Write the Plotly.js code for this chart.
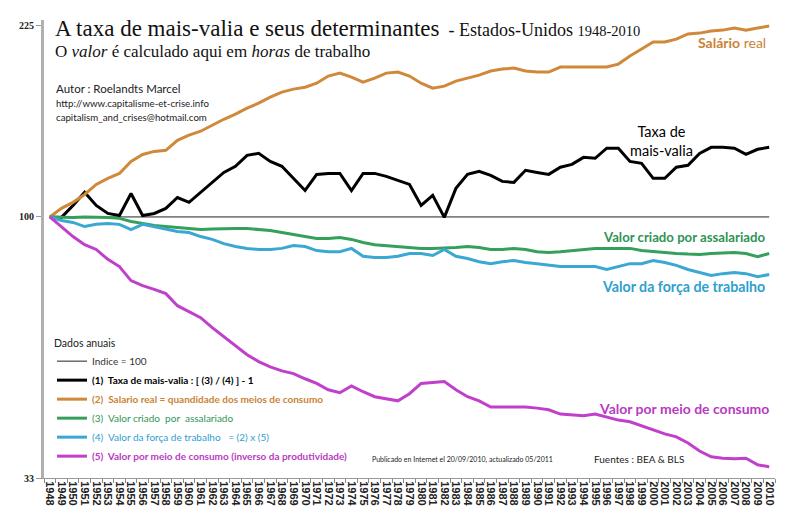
<!DOCTYPE html>
<html>
<head>
<meta charset="utf-8">
<script src="https://cdn.plot.ly/plotly-3.0.1.min.js"></script>
<style>
  html, body { margin: 0; padding: 0; background: #fff; }
  #chart { width: 787px; height: 526px; }
</style>
</head>
<body>
<div id="chart"></div>
<script>
// Annual series, United States 1948-2010, index 1948 = 100
const years = [];
for (let y = 1948; y <= 2010; y++) years.push(y);

const indexLine = years.map(() => 100);

// (1) Taxa de mais-valia
const taxaMaisValia = [
  100.0, 99.8, 105.0, 111.0, 105.0, 101.5, 100.6, 110.5, 100.6, 101.5,
  103.7, 108.6, 106.4, 111.0, 115.8, 120.8, 124.0, 129.9, 131.0, 126.6,
  124.0, 117.8, 111.9, 119.8, 120.3, 120.3, 111.9, 120.3, 120.3, 118.8,
  116.8, 114.8, 105.0, 109.6, 99.8, 112.9, 119.8, 121.4, 119.3, 116.3,
  115.8, 121.9, 120.8, 119.8, 123.5, 125.0, 128.8, 128.3, 133.9, 133.9,
  126.6, 125.6, 117.8, 117.8, 123.5, 124.5, 131.0, 134.4, 134.4, 133.9,
  130.4, 133.3, 134.4
];

// (2) Salário real
const salarioReal = [
  100.0, 103.7, 106.4, 110.0, 114.8, 117.8, 120.3, 126.6, 130.4, 132.1,
  132.7, 138.5, 141.5, 143.9, 147.6, 151.4, 154.7, 158.7, 162.1, 166.3,
  169.9, 172.1, 173.5, 176.5, 181.9, 184.2, 181.1, 177.3, 180.3, 184.2,
  185.0, 181.9, 176.5, 172.8, 174.3, 178.0, 180.3, 182.6, 185.8, 187.4,
  188.2, 185.8, 185.0, 185.0, 189.0, 189.0, 189.0, 189.0, 189.0, 191.4,
  198.0, 204.0, 210.2, 210.2, 212.8, 217.5, 218.3, 220.2, 221.1, 223.0,
  221.1, 223.0, 225.0
];

// (3) Valor criado por assalariado
const valorCriado = [
  100.0, 99.8, 99.8, 100.0, 100.0, 99.8, 99.4, 98.1, 97.3, 96.4,
  96.0, 95.6, 95.2, 94.8, 95.0, 95.2, 95.2, 95.2, 94.8, 94.4,
  93.6, 92.8, 92.0, 91.3, 91.3, 91.6, 90.9, 89.7, 88.9, 88.6,
  88.2, 87.8, 87.5, 87.5, 87.6, 87.8, 88.2, 87.8, 87.1, 87.1,
  87.5, 87.1, 86.3, 86.0, 86.3, 86.7, 87.1, 87.5, 87.5, 87.5,
  87.5, 86.7, 86.3, 86.0, 85.6, 85.4, 85.3, 85.6, 85.8, 86.0,
  85.6, 84.5, 85.6
];

// (4) Valor da força de trabalho = (2) x (5)
const valorForca = [
  100.0, 98.5, 97.7, 96.0, 96.9, 97.3, 96.9, 94.8, 96.9, 96.0,
  94.8, 94.0, 93.6, 92.0, 90.9, 89.3, 88.2, 87.5, 87.1, 87.1,
  87.5, 88.6, 88.2, 86.7, 86.3, 86.3, 87.5, 84.6, 84.2, 84.2,
  84.6, 85.6, 85.6, 84.9, 87.1, 84.6, 83.8, 82.7, 82.0, 82.7,
  83.1, 82.4, 82.0, 81.4, 81.0, 81.0, 81.0, 81.0, 80.0, 81.0,
  82.0, 82.0, 83.1, 82.4, 81.4, 80.0, 79.0, 78.0, 78.6, 79.0,
  78.6, 77.6, 78.3
];

// (5) Valor por meio de consumo (inverso da produtividade)
const valorMeio = [
  100.0, 96.0, 92.0, 88.9, 87.1, 83.5, 81.0, 76.3, 74.7, 73.5,
  72.2, 68.6, 66.9, 65.2, 62.5, 60.1, 57.9, 55.7, 54.1, 52.9,
  52.0, 51.4, 50.3, 49.3, 48.0, 47.4, 48.8, 47.6, 46.6, 46.2,
  45.8, 47.2, 49.3, 49.5, 49.7, 48.0, 46.6, 45.8, 44.6, 44.6,
  44.6, 44.6, 44.4, 44.1, 43.3, 43.2, 43.0, 43.3, 42.8, 42.2,
  41.9, 41.2, 40.5, 39.8, 39.3, 38.3, 37.0, 36.1, 35.9, 35.8,
  35.9, 34.9, 34.6
];

const yTickVals = [33, 100, 225];
const yTickText = ['33', '100', '225'];

const COLORS = {
  index: '#222222',
  taxa: '#000000',
  salario: '#d0893a',
  criado: '#34a05c',
  forca: '#3aa8d2',
  meio: '#c03fcb'
};

// page geometry (px)
const W = 787, H = 526, L = 44, R = 12, T = 20, B = 48;
const PW = W - L - R, PH = H - T - B;
const px = v => (v - L) / PW;
const py = v => (H - B - v) / PH;

const tinted = (c, s) => '<span style="color:' + c + '">' + s + '</span>';

function line(y, name, color, width) {
  return {
    type: 'scatter', mode: 'lines', x: years, y: y, name: name,
    line: { color: color, width: width, shape: 'linear' },
    hoverinfo: 'skip', cliponaxis: false
  };
}

const traces = [
  line(indexLine, tinted('#333', 'Indice = 100'), COLORS.index, 1),
  line(taxaMaisValia, '<b>' + tinted('#000', '(1)  Taxa de mais-valia : [ (3) / (4) ] - 1') + '</b>', COLORS.taxa, 3),
  line(salarioReal, '<b>' + tinted('#c98336', '(2)  Salario real = quandidade dos meios de consumo') + '</b>', COLORS.salario, 3),
  line(valorCriado, tinted('#2f9456', '(3)  Valor criado  por  assalariado'), COLORS.criado, 3),
  line(valorForca, tinted('#2fa0cf', '(4)  Valor da força de trabalho   = (2) x (5)'), COLORS.forca, 3),
  line(valorMeio, '<b>' + tinted('#b83ac4', '(5)  Valor por meio de consumo (inverso da produtividade)') + '</b>', COLORS.meio, 3)
];

const halfYears = [];
for (let y = 1947.5; y <= 2010.5; y += 1) halfYears.push(y);

const SANS = 'Lato, "Open Sans", sans-serif';
const SERIF = '"Liberation Serif", "DejaVu Serif", serif';

function note(x, y, text, size, color, anchor, extra) {
  return Object.assign({
    xref: 'paper', yref: 'paper', x: px(x), y: py(y),
    xanchor: anchor || 'left', yanchor: 'middle',
    text: text, showarrow: false,
    font: { family: SANS, size: size, color: color }
  }, extra || {});
}

const annotations = [
  note(53, 28,
    '<span style="font-size:23px">A taxa de mais-valia e seus determinantes</span>' +
    '<span style="font-size:18px">  - Estados-Unidos </span>' +
    '<span style="font-size:14.5px">1948-2010</span>',
    23, '#111', 'left', { font: { family: SERIF, size: 23, color: '#111' } }),
  note(53, 51, 'O <i>valor</i> é calculado aqui em <i>horas</i> de trabalho',
    17, '#111', 'left', { font: { family: SERIF, size: 17, color: '#111' } }),
  note(54, 89, 'Autor : Roelandts Marcel', 11.5, '#222'),
  note(54, 103, 'http://www.capitalisme-et-crise.info', 9.7, '#222'),
  note(54, 117, 'capitalism_and_crises@hotmail.com', 9.7, '#222'),
  note(768, 43, '<b>Salário</b> real', 14, '#c98336', 'right'),
  note(661, 141, 'Taxa de<br>mais-valia', 14.5, '#000', 'center'),
  note(767, 237, '<b>Valor criado por assalariado</b>', 13.2, '#2f9456', 'right'),
  note(767, 286, '<b>Valor da força de trabalho</b>', 14.2, '#2fa0cf', 'right'),
  note(771, 408, '<b>Valor por meio de consumo</b>', 14, '#b83ac4', 'right'),
  note(370, 459, 'Publicado en Internet el 20/09/2010, actualizado 05/2011', 7, '#222'),
  note(592, 459, 'Fuentes : BEA &amp; BLS', 10, '#222')
];

const layout = {
  width: W, height: H,
  margin: { l: L, r: R, t: T, b: B, pad: 0 },
  paper_bgcolor: '#ffffff', plot_bgcolor: '#ffffff',
  showlegend: true,
  legend: {
    x: px(52), y: py(333), xanchor: 'left', yanchor: 'top',
    bgcolor: 'rgba(0,0,0,0)', borderwidth: 0,
    font: { family: SANS, size: 10, color: '#222' },
    title: { text: 'Dados anuais', font: { family: SANS, size: 10.5, color: '#222' } },
    itemwidth: 30, tracegroupgap: 0
  },
  xaxis: {
    type: 'linear', range: [1947.5, 2010.5], automargin: false,
    showgrid: false, zeroline: false,
    showline: true, linecolor: '#9a9a9a', linewidth: 1,
    tickmode: 'array', tickvals: years, ticktext: years.map(v => '<b>' + v + '</b>'),
    tickangle: 90, ticks: '',
    tickfont: { family: '"Liberation Sans", Arial, sans-serif', size: 11, color: '#222' },
    minor: { tickmode: 'array', tickvals: halfYears, ticks: 'outside', ticklen: 4, tickcolor: '#8a8a8a', tickwidth: 1 }
  },
  xaxis2: {
    overlaying: 'x', anchor: 'y', side: 'bottom',
    range: [1947.5, 2010.5], automargin: false,
    showgrid: false, zeroline: false, showline: false, showticklabels: false,
    tickmode: 'array', tickvals: halfYears, ticks: 'inside', ticklen: 4,
    tickcolor: '#8a8a8a', tickwidth: 1
  },
  yaxis: {
    type: 'log', range: [Math.log10(33), Math.log10(230.8)], automargin: false,
    showgrid: false, zeroline: false,
    showline: true, linecolor: '#b0b0b0', linewidth: 3,
    tickmode: 'array', tickvals: yTickVals, ticktext: yTickText.map(t => '<b>' + t + '</b>'),
    ticks: 'outside', ticklen: 5, tickcolor: '#9a9a9a',
    tickfont: { family: SERIF, size: 10, color: '#222' }
  },
  annotations: annotations,
  hovermode: false
};

Plotly.newPlot('chart', traces, layout, { displayModeBar: false, staticPlot: true });
</script>
</body>
</html>
